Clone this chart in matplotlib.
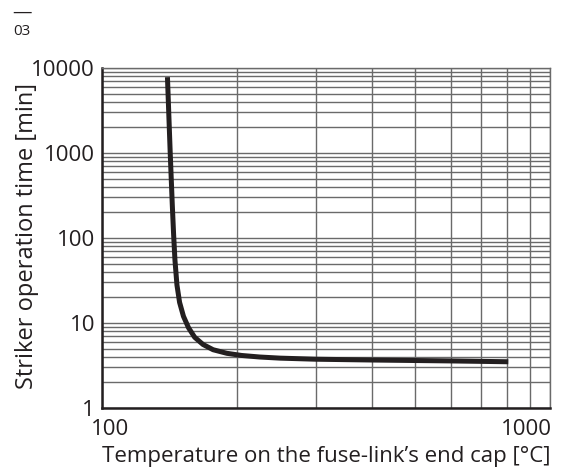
import matplotlib
matplotlib.use('Agg')
import matplotlib.pyplot as plt
import matplotlib.transforms as mtransforms
from matplotlib.ticker import NullFormatter

plt.rcParams['font.family'] = ['Open Sans', 'DejaVu Sans']

# curve (temperature in degC, time in min)
temperature = [140, 142, 143.5, 144.5, 145.5, 147, 149, 152, 156, 161, 168,
               177, 190, 205, 225, 250, 300, 400, 600, 807]
op_time = [7800, 1000, 250, 110, 55, 28, 17.5, 12, 8.8, 6.8, 5.6,
           4.85, 4.4, 4.15, 3.98, 3.86, 3.75, 3.67, 3.58, 3.5]

x_ticks = [100, 1000]
x_ticklabels = ['100', '1000']
y_ticks = [1, 10, 100, 1000, 10000]
y_ticklabels = ['1', '10', '100', '1000', '10000']

txt = '#231f20'
grid_col = '#6a6a6a'

fig = plt.figure(figsize=(5.65, 4.70), dpi=100)
ax = fig.add_axes([0.1805, 0.1319, 0.793, 0.7234])

ax.plot(temperature, op_time, color='#231f20', linewidth=3.6,
        solid_capstyle='butt', solid_joinstyle='round', zorder=3)

ax.set_xscale('log')
ax.set_yscale('log')
ax.set_xlim(100, 1000)
ax.set_ylim(1, 10000)

ax.grid(True, which='both', color=grid_col, linewidth=1.0)
ax.set_axisbelow(True)

ax.set_xticks(x_ticks)
ax.set_xticklabels(x_ticklabels)
ax.set_yticks(y_ticks)
ax.set_yticklabels(y_ticklabels)
ax.xaxis.set_minor_formatter(NullFormatter())
ax.yaxis.set_minor_formatter(NullFormatter())
ax.tick_params(which='both', length=0, labelsize=16, labelcolor=txt)
ax.tick_params(axis='y', pad=5)
ax.tick_params(axis='x', pad=8)

xl = ax.get_xticklabels()
xl[0].set_ha('left')
xl[0].set_transform(xl[0].get_transform() +
                    mtransforms.ScaledTranslation(-11 / 100, 0, fig.dpi_scale_trans))
xl[1].set_ha('right')
xl[1].set_transform(xl[1].get_transform() +
                    mtransforms.ScaledTranslation(2 / 100, 0, fig.dpi_scale_trans))

for s in ['left', 'bottom']:
    ax.spines[s].set_color('#231f20')
    ax.spines[s].set_linewidth(1.8)
for s in ['top', 'right']:
    ax.spines[s].set_color(grid_col)
    ax.spines[s].set_linewidth(1.0)

ax.set_xlabel('Temperature on the fuse-link\u2019s end cap [°C]', fontsize=16,
              color=txt, va='center', ha='center')
ax.xaxis.set_label_coords(0.5, -0.144)
ax.set_ylabel('Striker operation time [min]', fontsize=17, color=txt,
              va='center', ha='center')
ax.yaxis.set_label_coords(-0.167, 0.506)

fig.text(0.021, 0.972, '\u2014', fontsize=14, color=txt, va='center', ha='left')
fig.text(0.023, 0.933, '03', fontsize=11, color=txt, va='center', ha='left')

fig.savefig('out.png', dpi=100)
